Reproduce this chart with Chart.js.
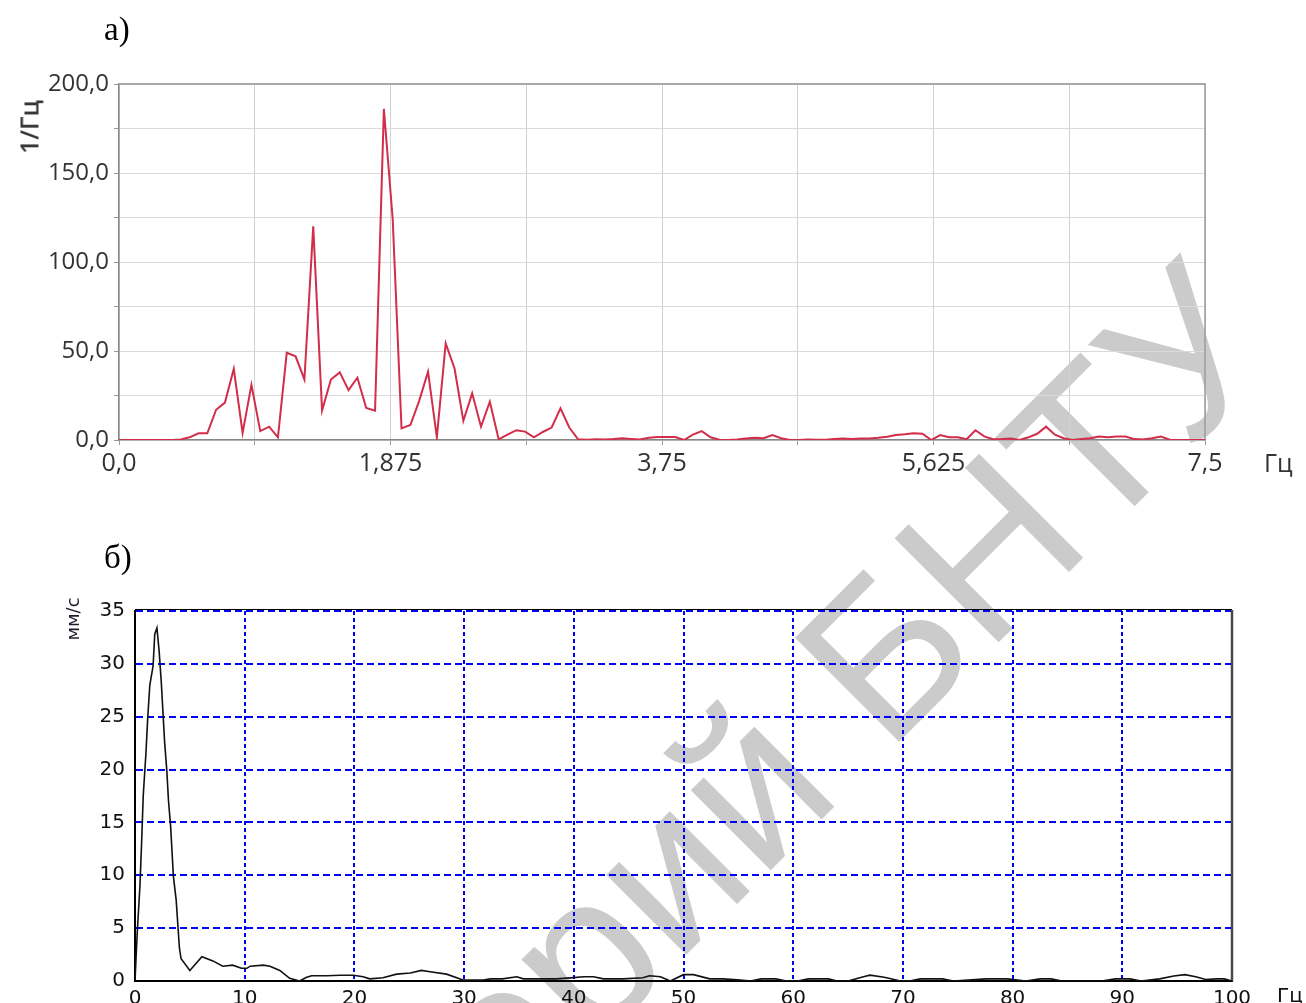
<!DOCTYPE html>
<html>
<head>
<meta charset="utf-8">
<script src="https://cdn.jsdelivr.net/npm/chart.js@4.4.1/dist/chart.umd.min.js"></script>
<style>
  html, body { margin: 0; padding: 0; background: #fff; }
  #page { position: relative; width: 1306px; height: 1003px; overflow: hidden; background: #fff; }
  #wm { position: absolute; left: 0; top: 0; z-index: 0; }
  canvas { position: absolute; left: 0; z-index: 1; }
  #cA { top: 0; width: 1306px; height: 520px; }
  #cB { top: 520px; width: 1306px; height: 483px; }
  .lbl { position: absolute; white-space: nowrap; z-index: 2; line-height: 1; }
  .rot { transform: translate(-50%, -50%) rotate(-90deg); }
</style>
</head>
<body>
<div id="page">
  <svg id="wm" width="1306" height="1003">
    <text x="1284" y="357" text-anchor="end" transform="rotate(-45 1284 357)"
          font-family="Liberation Sans, Arial, sans-serif" font-size="214" fill="#cbcbcb">Репозиторий БНТУ</text>
  </svg>
  <canvas id="cA" width="1306" height="520"></canvas>
  <canvas id="cB" width="1306" height="483"></canvas>

  <div class="lbl" style="left:104px; top:13px; font-family:'Liberation Serif','Times New Roman',serif; font-size:33px; color:#000;">а)</div>
  <div class="lbl" style="left:104px; top:541px; font-family:'Liberation Serif','Times New Roman',serif; font-size:33px; color:#000;">б)</div>

  <div class="lbl rot" style="left:29px; top:127px; font-family:'Open Sans',sans-serif; font-weight:600; font-size:25px; color:#383838;">1/Гц</div>
  <div class="lbl" style="left:1264px; top:450px; font-family:'Open Sans',sans-serif; font-size:25px; color:#333;">Гц</div>

  <div class="lbl rot" style="left:73px; top:619px; font-family:'DejaVu Sans',sans-serif; font-size:18px; color:#1c1c2c;">мм/с</div>
  <div class="lbl" style="left:1277px; top:985px; font-family:'DejaVu Sans',sans-serif; font-size:20px; color:#111;">Гц</div>
</div>

<script>
// ---- spectrum а): amplitude, 1/Гц, sampled every FREQ_STEP_A Гц from 0 to 7,5
const FREQ_STEP_A = 7.5 / 123;
const ampA = [
  0, 0, 0, 0, 0, 0, 0, 0.3, 1.5, 3.8,
  3.8, 17, 21, 40, 4, 31, 5, 7.5, 1.5, 49,
  47, 34, 120, 16.5, 34, 38, 28, 35, 18, 16.5,
  186, 124, 6.5, 8.4, 22, 38.4, 1.5, 54.3, 40.3, 10.8,
  26.2, 7.5, 21.5, 0.4, 3, 5.5, 4.7, 1.5, 4.5, 7,
  17.8, 7, 0.4, 0.2, 0.4, 0.3, 0.5, 1.0, 0.6, 0.3,
  1.2, 1.7, 1.7, 1.7, 0, 3, 5, 1.5, 0.2, 0,
  0.3, 0.8, 1.3, 1.0, 2.8, 1, 0, 0, 0.3, 0.2,
  0.2, 0.5, 0.8, 0.5, 0.8, 0.8, 1.2, 1.8, 2.8, 3.2,
  3.8, 3.5, 0, 2.8, 1.5, 1.5, 0.4, 5.5, 2, 0.4,
  0.5, 0.8, 0, 1.5, 3.5, 7.5, 3, 1, 0, 0.5,
  1, 2, 1.5, 2, 2, 0.5, 0.3, 1, 2, 0.2,
  0, 0, 0, 0
];
const tickPosA   = [0, 0.9375, 1.875, 2.8125, 3.75, 4.6875, 5.625, 6.5625, 7.5];
const tickLabelA = ['0,0', '', '1,875', '', '3,75', '', '5,625', '', '7,5'];
const yTickPosA   = [0, 25, 50, 75, 100, 125, 150, 175, 200];
const yTickLabelA = ['0,0', '', '50,0', '', '100,0', '', '150,0', '', '200,0'];

// ---- spectrum б): vibration velocity, мм/с, against frequency, Гц
const freqB = [
  0, 0.2, 0.45, 0.6, 0.75, 1.0, 1.15, 1.35, 1.65, 1.8,
  2.0, 2.2, 2.4, 2.7, 2.9, 3.05, 3.25, 3.5, 3.75, 3.9,
  4.05, 4.2, 5.0, 6.1, 7.1, 8.0, 8.9, 9.7, 10.2, 10.5,
  11.7, 12.3, 13.2, 14.1, 15.0, 15.65, 16.1, 17.5, 18.7, 19.9,
  20.8, 21.4, 22.6, 23.85, 25.1, 26.1, 27.05, 28.4, 29.9, 31.75,
  32.4, 33.5, 34.8, 35.4, 37.2, 38.4, 39.7, 40.9, 41.8, 42.7,
  44.5, 46.3, 46.9, 47.9, 48.8, 50.0, 50.9, 52.4, 53.6, 55.2,
  56.1, 57.1, 58.4, 59.4, 60.4, 61.4, 63.2, 64.0, 65.0, 66.4,
  67.0, 68.3, 69.6, 70.6, 71.6, 73.6, 74.6, 77.6, 79.5, 81.2,
  82.5, 83.5, 84.5, 88.1, 89.4, 90.7, 91.7, 93.4, 94.7, 95.7,
  96.7, 97.6, 98.6, 99.3, 100
];
const ampB = [
  0, 4.5, 9, 13, 17.5, 21.6, 24.7, 28, 29.8, 32.8,
  33.4, 31.2, 28.2, 22.6, 19.9, 17.1, 14.6, 9.9, 7.7, 5.4,
  3.1, 2.1, 1.0, 2.3, 1.9, 1.4, 1.5, 1.2, 1.2, 1.4,
  1.5, 1.4, 1.0, 0.25, 0, 0.35, 0.5, 0.5, 0.55, 0.55,
  0.4, 0.2, 0.3, 0.65, 0.75, 1.0, 0.85, 0.65, 0.1, 0.1,
  0.2, 0.2, 0.4, 0.2, 0.2, 0.2, 0.3, 0.4, 0.4, 0.2,
  0.2, 0.3, 0.5, 0.4, 0, 0.6, 0.6, 0.2, 0.2, 0.1,
  0, 0.2, 0.2, 0, 0, 0.2, 0.2, 0, 0, 0.4,
  0.55, 0.35, 0.05, 0, 0.2, 0.2, 0, 0.2, 0.2, 0,
  0.2, 0.2, 0, 0, 0.2, 0.2, 0, 0.2, 0.48, 0.6,
  0.4, 0.14, 0.2, 0.2, 0
];
const xTickLabelB = ['0', '10', '20', '30', '40', '50', '60', '70', '80', '90', '100'];
const yTickLabelB = ['0', '5', '10', '15', '20', '25', '30', '35'];

// outline of the plotting area on the sides that have no axis
function framePlugin(opts) {
  return {
    id: 'frame',
    beforeDatasetsDraw(chart) {
      const { ctx, chartArea: a } = chart;
      ctx.save();
      if (opts.top) {
        ctx.strokeStyle = opts.top.color;
        ctx.lineWidth = opts.top.width;
        ctx.beginPath();
        ctx.moveTo(a.left, a.top + opts.top.offset);
        ctx.lineTo(a.right, a.top + opts.top.offset);
        ctx.stroke();
      }
      if (opts.right) {
        ctx.strokeStyle = opts.right.color;
        ctx.lineWidth = opts.right.width;
        ctx.beginPath();
        ctx.moveTo(a.right, a.top - 1);
        ctx.lineTo(a.right, a.bottom);
        ctx.stroke();
      }
      ctx.restore();
    }
  };
}

// ---------- chart а)
new Chart(document.getElementById('cA'), {
  type: 'line',
  data: {
    datasets: [{
      data: ampA.map((v, i) => ({ x: i * FREQ_STEP_A, y: v })),
      borderColor: '#d22d49',
      borderWidth: 2,
      pointRadius: 0,
      tension: 0,
      fill: false
    }]
  },
  options: {
    responsive: false,
    animation: false,
    events: [],
    layout: { padding: { left: 0, right: 101, top: 84, bottom: 40 } },
    plugins: { legend: { display: false }, tooltip: { enabled: false } },
    scales: {
      x: {
        type: 'linear', min: 0, max: 7.5,
        afterBuildTicks: s => { s.ticks = tickPosA.map(v => ({ value: v })); },
        afterFit: s => { s.height = 40; },
        grid: { color: '#d2d2d2', lineWidth: 1, tickLength: 5, tickColor: '#999' },
        border: { color: '#858585', width: 1.5 },
        ticks: {
          autoSkip: false, maxRotation: 0, padding: 4, color: '#333',
          font: { family: 'Open Sans', size: 25 },
          callback: (v, i) => tickLabelA[i]
        }
      },
      y: {
        min: 0, max: 200,
        afterBuildTicks: s => { s.ticks = yTickPosA.map(v => ({ value: v })); },
        afterFit: s => { s.width = 119; },
        grid: { color: '#dadada', lineWidth: 1, tickLength: 5, tickColor: '#999' },
        border: { color: '#858585', width: 1.5 },
        ticks: {
          autoSkip: false, padding: 5, color: '#333',
          font: { family: 'Open Sans', size: 24 },
          callback: (v, i) => yTickLabelA[i]
        }
      }
    }
  },
  plugins: [framePlugin({
    top: { color: '#a8a8a8', width: 2, offset: 0 },
    right: { color: '#9a9a9a', width: 1.5 }
  })]
});

// ---------- chart б)
new Chart(document.getElementById('cB'), {
  type: 'line',
  data: {
    datasets: [{
      data: freqB.map((f, i) => ({ x: f, y: ampB[i] })),
      borderColor: '#111',
      borderWidth: 1.6,
      pointRadius: 0,
      tension: 0,
      fill: false
    }]
  },
  options: {
    responsive: false,
    animation: false,
    events: [],
    layout: { padding: { left: 0, right: 74, top: 91, bottom: 0 } },
    plugins: { legend: { display: false }, tooltip: { enabled: false } },
    scales: {
      x: {
        type: 'linear', min: 0, max: 100,
        ticks: {
          stepSize: 10, autoSkip: false, maxRotation: 0, padding: 6, color: '#111',
          font: { family: 'DejaVu Sans', size: 20 },
          callback: (v, i) => xTickLabelB[i]
        },
        afterFit: s => { s.height = 22; },
        grid: { color: '#0000ff', lineWidth: 2, drawTicks: false },
        border: { color: '#000', width: 2, dash: [4, 3] }
      },
      y: {
        min: 0, max: 35,
        ticks: {
          stepSize: 5, autoSkip: false, padding: 10, color: '#111',
          font: { family: 'DejaVu Sans', size: 20 },
          callback: (v, i) => yTickLabelB[i]
        },
        afterFit: s => { s.width = 135; },
        grid: { color: '#0000ff', lineWidth: 2, drawTicks: false },
        border: { color: '#000', width: 2, dash: [7, 4] }
      }
    }
  },
  plugins: [framePlugin({
    top: { color: '#000', width: 1, offset: -1.5 },
    right: { color: '#4a4a4a', width: 2.5 }
  })]
});
</script>
</body>
</html>
